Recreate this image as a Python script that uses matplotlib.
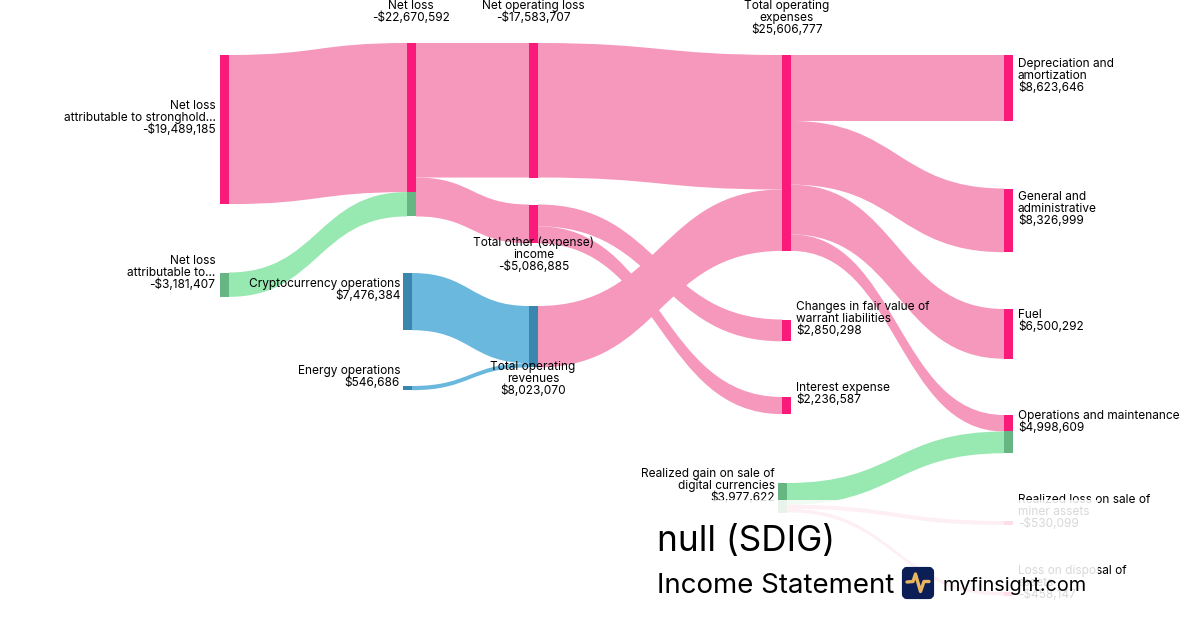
#!/usr/bin/env python3
# Income statement sankey, drawn by hand because matplotlib's own Sankey can't do this layout
import matplotlib
matplotlib.use("Agg")
import matplotlib.pyplot as plt
from matplotlib.path import Path
from matplotlib.patches import PathPatch, Rectangle, FancyBboxPatch

plt.rcParams['font.family'] = ['Inter', 'DejaVu Sans']

# values, in dollars
node_names = ["stronghold", "attributable", "net_loss", "net_op_loss", "other", "crypto", "energy",
              "revenues", "opex", "warrants", "interest", "gain", "depreciation", "ga", "fuel",
              "om", "loss_miner", "loss_disposal"]
node_values = [19489185, 3181407, 22670592, 17583707, 5086885, 7476384, 546686,
               8023070, 25606777, 2850298, 2236587, 3977622, 8623646, 8326999, 6500292,
               4998609, 530099, 458147]
node_kinds = ["loss", "gain", "loss", "loss", "loss", "rev", "rev",
              "rev", "loss", "loss", "loss", "gain", "loss", "loss", "loss",
              "loss", "loss", "loss"]

link_sources = ["stronghold", "attributable", "net_loss", "net_loss", "net_op_loss", "crypto", "energy",
                "revenues", "other", "other", "opex", "opex", "opex", "opex", "gain", "gain", "gain"]
link_targets = ["net_loss", "net_loss", "net_op_loss", "other", "opex", "revenues", "revenues",
                "opex", "warrants", "interest", "depreciation", "ga", "fuel", "om", "om",
                "loss_miner", "loss_disposal"]
link_values = [19489185, 3181407, 17583707, 5086885, 17583707, 7476384, 546686,
               8023070, 2850298, 2236587, 8623646, 8326999, 6500292, 2156000, 2842609,
               530099, 458147]
link_kinds = ["loss", "gain", "loss", "loss", "loss", "rev", "rev",
              "loss", "loss", "loss", "loss", "loss", "loss", "loss", "gain",
              "loss", "loss"]

labels = {
    "stronghold": "Net loss\nattributable to stronghold...\n-$19,489,185",
    "attributable": "Net loss\nattributable to...\n-$3,181,407",
    "net_loss": "Net loss\n-$22,670,592",
    "net_op_loss": "Net operating loss\n-$17,583,707",
    "other": "Total other (expense)\nincome\n-$5,086,885",
    "crypto": "Cryptocurrency operations\n$7,476,384",
    "energy": "Energy operations\n$546,686",
    "revenues": "Total operating\nrevenues\n$8,023,070",
    "opex": "Total operating\nexpenses\n$25,606,777",
    "warrants": "Changes in fair value of\nwarrant liabilities\n$2,850,298",
    "interest": "Interest expense\n$2,236,587",
    "gain": "Realized gain on sale of\ndigital currencies\n$3,977,622",
    "depreciation": "Depreciation and\namortization\n$8,623,646",
    "ga": "General and\nadministrative\n$8,326,999",
    "fuel": "Fuel\n$6,500,292",
    "om": "Operations and maintenance\n$4,998,609",
    "loss_miner": "Realized loss on sale of\nminer assets\n-$530,099",
    "loss_disposal": "Loss on disposal of\nassets\n-$458,147",
}

# layout in pixels: left edge and top edge of each node, then label anchor
node_left = dict(stronghold=220, attributable=220, net_loss=407, net_op_loss=529, other=529, crypto=403,
                 energy=403, revenues=529, opex=782, warrants=782, interest=782, gain=778,
                 depreciation=1004, ga=1004, fuel=1004, om=1004, loss_miner=1004, loss_disposal=1004)
node_top = dict(stronghold=55, attributable=272.5, net_loss=43, net_op_loss=43, other=204.5, crypto=273,
                energy=386, revenues=306, opex=55, warrants=319.5, interest=397, gain=483,
                depreciation=55, ga=188.5, fuel=309, om=415, loss_miner=521, loss_disposal=592)
label_pos = dict(stronghold=(215.5, 118, 'right'), attributable=(215.5, 273, 'right'), net_loss=(411, 12, 'center'),
                 net_op_loss=(533.5, 12, 'center'), other=(533.5, 255, 'center'), crypto=(400.5, 290, 'right'),
                 energy=(400, 377, 'right'), revenues=(533, 379, 'center'), opex=(787, 18, 'center'),
                 warrants=(796, 319, 'left'), interest=(796, 394, 'left'), gain=(775, 486, 'right'),
                 depreciation=(1018, 76, 'left'), ga=(1018, 209, 'left'), fuel=(1018, 321, 'left'),
                 om=(1018, 422, 'left'), loss_miner=(1018, 512, 'left'), loss_disposal=(1018, 583, 'left'))

link_color = dict(loss="#f598bb", gain="#98e8b2", rev="#6ab8de")
node_color = dict(loss="#f91a7a", gain="#68b584", rev="#3986ae")
node_w = 9
px_per_dollar = 7.65e-6

fig = plt.figure(figsize=(12, 6.3), dpi=100)
ax = fig.add_axes([0, 0, 1, 1])
ax.set_xlim(0, 1200)
ax.set_ylim(630, 0)
ax.axis('off')

out_y = dict(node_top)
in_y = dict(node_top)
has_input = set(link_targets)
value_of = dict(zip(node_names, node_values))
kind_of = dict(zip(node_names, node_kinds))

for s, t, v, k in zip(link_sources, link_targets, link_values, link_kinds):
    h = v * px_per_dollar
    x0 = node_left[s] + node_w
    x1 = node_left[t]
    xm = (x0 + x1) / 2
    y0 = out_y[s]
    y1 = in_y[t]
    verts = [(x0, y0), (xm, y0), (xm, y1), (x1, y1), (x1, y1 + h), (xm, y1 + h), (xm, y0 + h), (x0, y0 + h), (x0, y0)]
    codes = [Path.MOVETO, Path.CURVE4, Path.CURVE4, Path.CURVE4, Path.LINETO,
             Path.CURVE4, Path.CURVE4, Path.CURVE4, Path.CLOSEPOLY]
    ax.add_patch(PathPatch(Path(verts, codes), fc=link_color[k], ec='none', zorder=2))
    # nodes that get money in are coloured by what flows into them
    ax.add_patch(Rectangle((x1, y1), node_w, h, fc=node_color[k], ec='none', zorder=3))
    out_y[s] += h
    in_y[t] += h

for n in node_names:
    if n not in has_input:
        ax.add_patch(Rectangle((node_left[n], node_top[n]), node_w, value_of[n] * px_per_dollar,
                               fc=node_color[kind_of[n]], ec='none', zorder=3))

for n in node_names:
    x, y, ha = label_pos[n]
    ax.text(x, y, labels[n], ha=ha, va='center', multialignment=ha, fontsize=8.55, linespacing=0.98,
            color='black', zorder=4)

# the white card over the bottom of the chart, things show through a little
ax.add_patch(Rectangle((640, 500), 458, 130, fc='white', ec='none', alpha=0.85, zorder=5))

ax.text(657, 541, "null (SDIG)", fontsize=25.3, va='center', ha='left', color='black', zorder=6)
ax.text(657, 586, "Income Statement", fontsize=19.9, va='center', ha='left', color='black', zorder=6)
ax.text(942, 586, "myfinsight.com", fontsize=14.3, va='center', ha='left', color='black', zorder=6)

ax.add_patch(FancyBboxPatch((904, 569), 28, 28, boxstyle="round,pad=0,rounding_size=3", fc='#0b1f56',
                            ec='#0b1f56', lw=3, zorder=6))
pulse_x = [907, 913, 915.5, 920.5, 924, 929]
pulse_y = [582, 581.5, 574, 591.5, 581.5, 581.5]
ax.plot(pulse_x, pulse_y, color='#e8b660', lw=2.4, solid_joinstyle='round', solid_capstyle='round', zorder=7)

plt.savefig("out.png", dpi=100)
